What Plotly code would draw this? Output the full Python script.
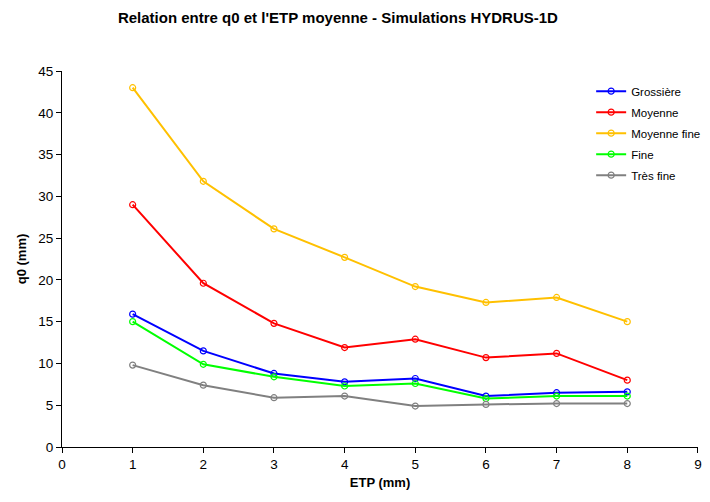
import plotly.graph_objects as go

etp = [1, 2, 3, 4, 5, 6, 7, 8]
grossiere = [15.9, 11.5, 8.8, 7.8, 8.2, 6.1, 6.5, 6.6]
moyenne = [29.0, 19.6, 14.8, 11.9, 12.9, 10.7, 11.2, 8.0]
moyenne_fine = [43.0, 31.8, 26.1, 22.7, 19.2, 17.3, 17.9, 15.0]
fine = [15.0, 9.9, 8.4, 7.3, 7.6, 5.8, 6.1, 6.1]
tres_fine = [9.8, 7.4, 5.9, 6.1, 4.9, 5.1, 5.2, 5.2]
x_ticks = [0, 1, 2, 3, 4, 5, 6, 7, 8, 9]

series = [
    ("Grossière", grossiere, "#0000FF"),
    ("Moyenne", moyenne, "#FF0000"),
    ("Moyenne fine", moyenne_fine, "#FFC000"),
    ("Fine", fine, "#00FF00"),
    ("Très fine", tres_fine, "#808080"),
]

FONT = "Arial, Liberation Sans, sans-serif"

fig = go.Figure()
for name, vals, col in series:
    fig.add_trace(go.Scatter(
        x=etp, y=vals, name=name, mode="lines+markers", legendgroup=name,
        line=dict(color=col, width=2),
        marker=dict(symbol="circle-open", size=6, color=col, line=dict(width=1.2, color=col)),
    ))

axis_common = dict(
    showline=True, linecolor="black", linewidth=1, ticks="outside", ticklen=5,
    tickcolor="black", showgrid=False, zeroline=False, automargin=False,
    ticklabeloverflow="allow",
    tickfont=dict(family=FONT, size=13.5, color="black"),
)

fig.update_layout(
    width=702, height=486,
    paper_bgcolor="white", plot_bgcolor="white",
    margin=dict(l=54, r=12, t=63, b=47, autoexpand=False),
    title=dict(text="<b>Relation entre q0 et l'ETP moyenne - Simulations HYDRUS-1D</b>",
               x=0.470, xanchor="center", y=1 - 10 / 486, yanchor="middle", automargin=False,
               font=dict(family=FONT, size=15, color="black")),
    xaxis=dict(range=[0, 9.001], tickmode="array", tickvals=x_ticks,
               title=dict(text="<b>ETP (mm)</b>", standoff=6,
                          font=dict(family=FONT, size=13, color="black")),
               **axis_common),
    yaxis=dict(range=[0, 45], dtick=5,
               title=dict(text="<b>q0 (mm)</b>", standoff=8,
                          font=dict(family=FONT, size=13, color="black")),
               **axis_common),
    legend=dict(x=0.832, y=0.985, xanchor="left", yanchor="top",
                bgcolor="rgba(0,0,0,0)", borderwidth=0,
                font=dict(family=FONT, size=11.5, color="black"),
                itemwidth=30, tracegroupgap=2),
    showlegend=True,
)

fig.write_html("out.html")
